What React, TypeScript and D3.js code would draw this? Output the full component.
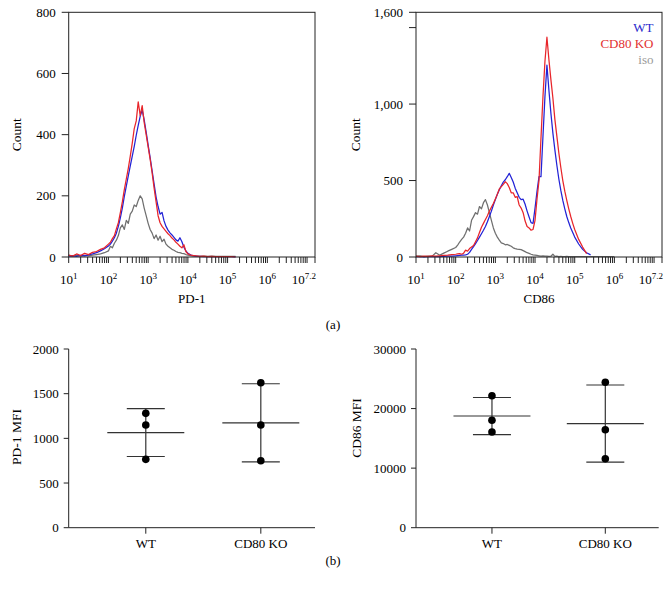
import React from 'react';
import * as d3 from 'd3';

// ---------- DATA ----------
// log10 fluorescence sampling positions for PD-1 histogram
const PD1_LOG_X = [
  1.0, 1.1, 1.2, 1.3, 1.4, 1.5, 1.6, 1.7, 1.8, 1.9,
  2.0, 2.05, 2.1, 2.15, 2.2, 2.25, 2.3, 2.35, 2.4, 2.45,
  2.5, 2.55, 2.6, 2.65, 2.7, 2.75, 2.8, 2.85, 2.9, 2.95,
  3.0, 3.05, 3.1, 3.15, 3.2, 3.25, 3.3, 3.35, 3.4, 3.45,
  3.5, 3.55, 3.6, 3.65, 3.7, 3.75, 3.8, 3.85, 3.9, 3.95,
  4.0, 4.1, 4.2, 4.3, 4.4, 4.5, 4.6, 4.7, 4.8, 4.9,
  5.0, 5.1, 5.2,
];
const PD1_WT = [
  3, 4, 2, 5, 4, 7, 10, 14, 20, 27,
  36, 42, 52, 63, 78, 100, 128, 160, 198, 232,
  265, 298, 330, 362, 398, 430, 460, 480, 448, 408,
  366, 325, 282, 238, 196, 165, 140, 146, 118, 100,
  88, 79, 72, 64, 56, 52, 63, 50, 32, 20,
  12, 5, 3, 2, 1, 1, 1, 1, 1, 1,
  1, 1, 0,
];
const PD1_KO = [
  6, 3, 10, 5, 12, 8, 15, 18, 25, 30,
  42, 48, 60, 70, 92, 112, 145, 180, 220, 255,
  290, 330, 372, 420, 445, 507, 462, 495, 440, 400,
  360, 320, 275, 225, 180, 135, 112, 100, 92, 84,
  76, 70, 62, 56, 48, 42, 35, 30, 40, 18,
  10, 5, 4, 2, 3, 1, 2, 1, 1, 1,
  1, 1, 0,
];
const PD1_ISO = [
  5, 4, 6, 3, 5, 4, 6, 8, 10, 14,
  20, 35, 30, 45, 55, 70, 95, 105, 90, 120,
  110, 140, 150, 170, 165, 185, 200, 190, 160, 135,
  110, 90, 78, 60, 72, 55, 68, 50, 58, 42,
  35, 30, 25, 22, 18, 15, 14, 12, 11, 8,
  6, 4, 3, 2, 3, 2, 3, 2, 2, 2,
  2, 2, 2,
];

// log10 fluorescence sampling positions for CD86 histogram
const CD86_LOG_X = [
  1.0, 1.1, 1.2, 1.3, 1.4, 1.5, 1.6, 1.7, 1.8, 1.9,
  2.0, 2.05, 2.1, 2.15, 2.2, 2.25, 2.3, 2.35, 2.4, 2.45,
  2.5, 2.55, 2.6, 2.65, 2.7, 2.75, 2.8, 2.85, 2.9, 2.95,
  3.0, 3.05, 3.1, 3.15, 3.2, 3.25, 3.3, 3.35, 3.4, 3.45,
  3.5, 3.55, 3.6, 3.65, 3.7, 3.75, 3.8, 3.85, 3.9, 3.95,
  4.0, 4.05, 4.1, 4.15, 4.2, 4.25, 4.3, 4.35, 4.4, 4.45,
  4.5, 4.55, 4.6, 4.65, 4.7, 4.75, 4.8, 4.85, 4.9, 4.95,
  5.0, 5.1, 5.2, 5.3, 5.4, 5.5, 5.6, 5.7, 5.8, 5.9, 6.0,
];
const CD86_WT = [
  2, 3, 1, 2, 3, 2, 3, 4, 5, 6,
  8, 9, 10, 12, 12, 14, 18, 30, 50, 68,
  88, 108, 130, 152, 175, 200, 230, 265, 300, 340,
  375, 410, 440, 465, 490, 505, 525, 547, 520, 490,
  450, 420, 390, 375, 378, 345, 300, 262, 225, 220,
  320, 430, 525, 525, 790, 1050, 1255, 1090, 940, 810,
  700, 600, 510, 435, 370, 315, 265, 225, 190, 160,
  130, 85, 50, 28, 14,
];
const CD86_KO = [
  5, 3, 6, 4, 7, 5, 8, 10, 12, 15,
  18, 20, 22, 18, 25, 45, 38, 55, 65, 75,
  100, 125, 160, 195, 220, 245, 270, 300, 325, 350,
  380, 410, 445, 460, 475, 492, 480, 455, 420, 420,
  390, 395, 340, 320, 290, 235, 200, 190, 175, 180,
  240, 380, 500, 780, 1050, 1280, 1437, 1290, 1160, 1040,
  900, 790, 680, 585, 500, 430, 370, 315, 265, 220,
  180, 115, 65, 22,
];
const CD86_ISO = [
  5, 8, 3, 6, 4, 28, 12, 25, 38, 50,
  62, 78, 98, 115, 130, 155, 190, 170, 240, 264,
  290, 280, 330, 315, 355, 375, 340, 290, 240, 190,
  155, 130, 110, 92, 88, 80, 82, 76, 70, 60,
  55, 52, 50, 48, 42, 35, 28, 24, 18, 14,
  12, 10, 8, 6, 7, 5, 6, 4, 5, 18,
  4, 5, 3, 4, 3, 3, 4, 3, 3, 2,
  3, 3, 2, 3, 2, 2, 3, 2, 2, 2, 2,
];

const SERIES_NAMES = ['WT', 'CD80 KO', 'iso'];
const SERIES_COLORS = ['#2222d6', '#e8252a', '#6f6f6f'];
const LEGEND_COLORS = ['#2a2acc', '#e23030', '#999999'];

const PD1_COUNT_TICKS = [0, 200, 400, 600, 800];
const CD86_COUNT_TICKS = [0, 500, 1000, 1500, 1600];
const CD86_COUNT_LABELS = ['0', '500', '1,000', '', '1,600'];
const DECADE_EXPONENTS = ['1', '2', '3', '4', '5', '6', '7.2'];

// MFI scatter data
const GROUPS = ['WT', 'CD80 KO'];
const PD1_MFI_WT = [1280, 1149, 765];
const PD1_MFI_KO = [1623, 1149, 750];
const CD86_MFI_WT = [22159, 18030, 16065];
const CD86_MFI_KO = [24409, 16451, 11583];
const PD1_MFI_TICKS = [0, 500, 1000, 1500, 2000];
const CD86_MFI_TICKS = [0, 10000, 20000, 30000];

// ---------- LAYOUT ----------
const FONT = '"Liberation Serif", "Times New Roman", serif';
const AXIS = '#222';
const TXT = '#000';
const TOP_Y = [12.3, 257];
const BOT_Y = [349, 527.7];

type HistProps = {
  x0: number; x1: number; logX: number[]; series: number[][];
  yMax: number; yTicks: number[]; yLabels: string[]; xTitle: string;
  yTitleX: number; legend: boolean;
};

function Histogram({ x0, x1, logX, series, yMax, yTicks, yLabels, xTitle, yTitleX, legend }: HistProps) {
  const [yt, yb] = TOP_Y;
  const x = d3.scaleLog().domain([10, Math.pow(10, 7.2)]).range([x0, x1]);
  const y = d3.scaleLinear().domain([0, yMax]).range([yb, yt]);
  const minorTicks: number[] = [];
  for (let d = 1; d <= 7; d++) {
    for (let m = 1; m <= 9; m++) {
      const v = m * Math.pow(10, d);
      if (Math.log10(v) <= 7.2 + 1e-9) minorTicks.push(v);
    }
  }
  minorTicks.push(Math.pow(10, 7.2));
  const line = d3.line<[number, number]>().x(d => x(Math.pow(10, d[0]))).y(d => y(d[1]));
  const order = [2, 0, 1];
  return (
    <g>
      {order.map(si => {
        const pts: [number, number][] = series[si].map((v, i) => [logX[i], v]);
        return <path key={si} d={line(pts) || ''} fill="none" stroke={SERIES_COLORS[si]} strokeWidth={1.25} strokeLinejoin="round" />;
      })}
      <rect x={x0} y={yt} width={x1 - x0} height={yb - yt} fill="none" stroke={AXIS} strokeWidth={1} />
      {yTicks.map((t, i) => (
        <g key={i}>
          <line x1={x0 - 7} x2={x0} y1={y(t)} y2={y(t)} stroke={AXIS} strokeWidth={1} />
          {yLabels[i] && (
            <text x={x0 - 13} y={y(t)} dy="0.35em" textAnchor="end" fontSize={13} fontFamily={FONT} fill={TXT}>{yLabels[i]}</text>
          )}
        </g>
      ))}
      {minorTicks.map((t, i) => (
        <line key={i} x1={x(t)} x2={x(t)} y1={yb} y2={yb + 6} stroke={AXIS} strokeWidth={1} />
      ))}
      {DECADE_EXPONENTS.map((e, i) => {
        const v = Math.pow(10, parseFloat(e));
        const last = i === DECADE_EXPONENTS.length - 1;
        return (
          <text key={e} x={last ? x(v) + 1 : x(v)} y={284} textAnchor={last ? 'end' : 'middle'} fontSize={13} fontFamily={FONT} fill={TXT}>
            <tspan>10</tspan>
            <tspan dy={-5} fontSize={9}>{e}</tspan>
          </text>
        );
      })}
      <text x={(x0 + x1) / 2} y={303} textAnchor="middle" fontSize={13} fontFamily={FONT} fill={TXT}>{xTitle}</text>
      <text transform={`translate(${yTitleX},${(yt + yb) / 2}) rotate(-90)`} dy="0.35em" textAnchor="middle" fontSize={13.5} fontFamily={FONT} fill={TXT}>Count</text>
      {legend && SERIES_NAMES.map((n, i) => (
        <text key={n} x={653.5} y={31.5 + i * 16} textAnchor="end" fontSize={13} fontFamily={FONT} fill={LEGEND_COLORS[i]}>{n}</text>
      ))}
    </g>
  );
}

type ScatterProps = {
  x0: number; x1: number; groups: number[][]; yMax: number; yTicks: number[];
  yTitle: string; yTitleX: number; yTitleY: number;
};

function Scatter({ x0, x1, groups, yMax, yTicks, yTitle, yTitleX, yTitleY }: ScatterProps) {
  const [yt, yb] = BOT_Y;
  const w = x1 - x0;
  const x = d3.scalePoint<string>().domain(GROUPS).range([x0 + 0.313 * w, x0 + 0.78 * w]);
  const y = d3.scaleLinear().domain([0, yMax]).range([yb, yt]);
  return (
    <g>
      <line x1={x0} x2={x0} y1={yt} y2={yb} stroke={AXIS} strokeWidth={1} />
      <line x1={x0} x2={x1} y1={yb} y2={yb} stroke={AXIS} strokeWidth={1} />
      {yTicks.map(t => (
        <g key={t}>
          <line x1={x0 - 5} x2={x0} y1={y(t)} y2={y(t)} stroke={AXIS} strokeWidth={1} />
          <text x={x0 - 10} y={y(t)} dy="0.35em" textAnchor="end" fontSize={13} fontFamily={FONT} fill={TXT}>{t}</text>
        </g>
      ))}
      {GROUPS.map((g, gi) => {
        const cx = x(g) as number;
        const vals = groups[gi];
        const m = d3.mean(vals) as number;
        const sd = d3.deviation(vals) as number;
        return (
          <g key={g}>
            <line x1={cx} x2={cx} y1={yb} y2={yb + 6} stroke={AXIS} strokeWidth={1} />
            <text x={cx} y={548} textAnchor="middle" fontSize={13} fontFamily={FONT} fill={TXT}>{g}</text>
            <line x1={cx} x2={cx} y1={y(m + sd)} y2={y(m - sd)} stroke="#333" strokeWidth={1.2} />
            <line x1={cx - 19} x2={cx + 19} y1={y(m + sd)} y2={y(m + sd)} stroke="#333" strokeWidth={1.2} />
            <line x1={cx - 19} x2={cx + 19} y1={y(m - sd)} y2={y(m - sd)} stroke="#333" strokeWidth={1.2} />
            <line x1={cx - 38.5} x2={cx + 38.5} y1={y(m)} y2={y(m)} stroke="#333" strokeWidth={1.2} />
            {vals.map((v, i) => (
              <circle key={i} cx={cx} cy={y(v)} r={3.8} fill="#000" />
            ))}
          </g>
        );
      })}
      <text transform={`translate(${yTitleX},${yTitleY}) rotate(-90)`} dy="0.35em" textAnchor="middle" fontSize={13.5} fontFamily={FONT} fill={TXT}>{yTitle}</text>
    </g>
  );
}

export default function App() {
  return (
    <svg width={672} height={596} viewBox="0 0 672 596" style={{ position: 'absolute', left: 0, top: 0, background: '#fff' }}>
      <rect x={0} y={0} width={672} height={596} fill="#fff" />
      <Histogram x0={68.7} x1={315} logX={PD1_LOG_X} series={[PD1_WT, PD1_KO, PD1_ISO]}
        yMax={800} yTicks={PD1_COUNT_TICKS} yLabels={PD1_COUNT_TICKS.map(String)} xTitle="PD-1" yTitleX={16} legend={false} />
      <Histogram x0={416} x1={662} logX={CD86_LOG_X} series={[CD86_WT, CD86_KO, CD86_ISO]}
        yMax={1600} yTicks={CD86_COUNT_TICKS} yLabels={CD86_COUNT_LABELS} xTitle="CD86" yTitleX={355} legend={true} />
      <text x={333} y={329} textAnchor="middle" fontSize={13} fontFamily={FONT} fill={TXT}>(a)</text>
      <Scatter x0={68.7} x1={315} groups={[PD1_MFI_WT, PD1_MFI_KO]} yMax={2000} yTicks={PD1_MFI_TICKS}
        yTitle="PD-1 MFI" yTitleX={16} yTitleY={437} />
      <Scatter x0={416} x1={658.7} groups={[CD86_MFI_WT, CD86_MFI_KO]} yMax={30000} yTicks={CD86_MFI_TICKS}
        yTitle="CD86 MFI" yTitleX={356} yTitleY={428} />
      <text x={333} y={565} textAnchor="middle" fontSize={13} fontFamily={FONT} fill={TXT}>(b)</text>
    </svg>
  );
}
